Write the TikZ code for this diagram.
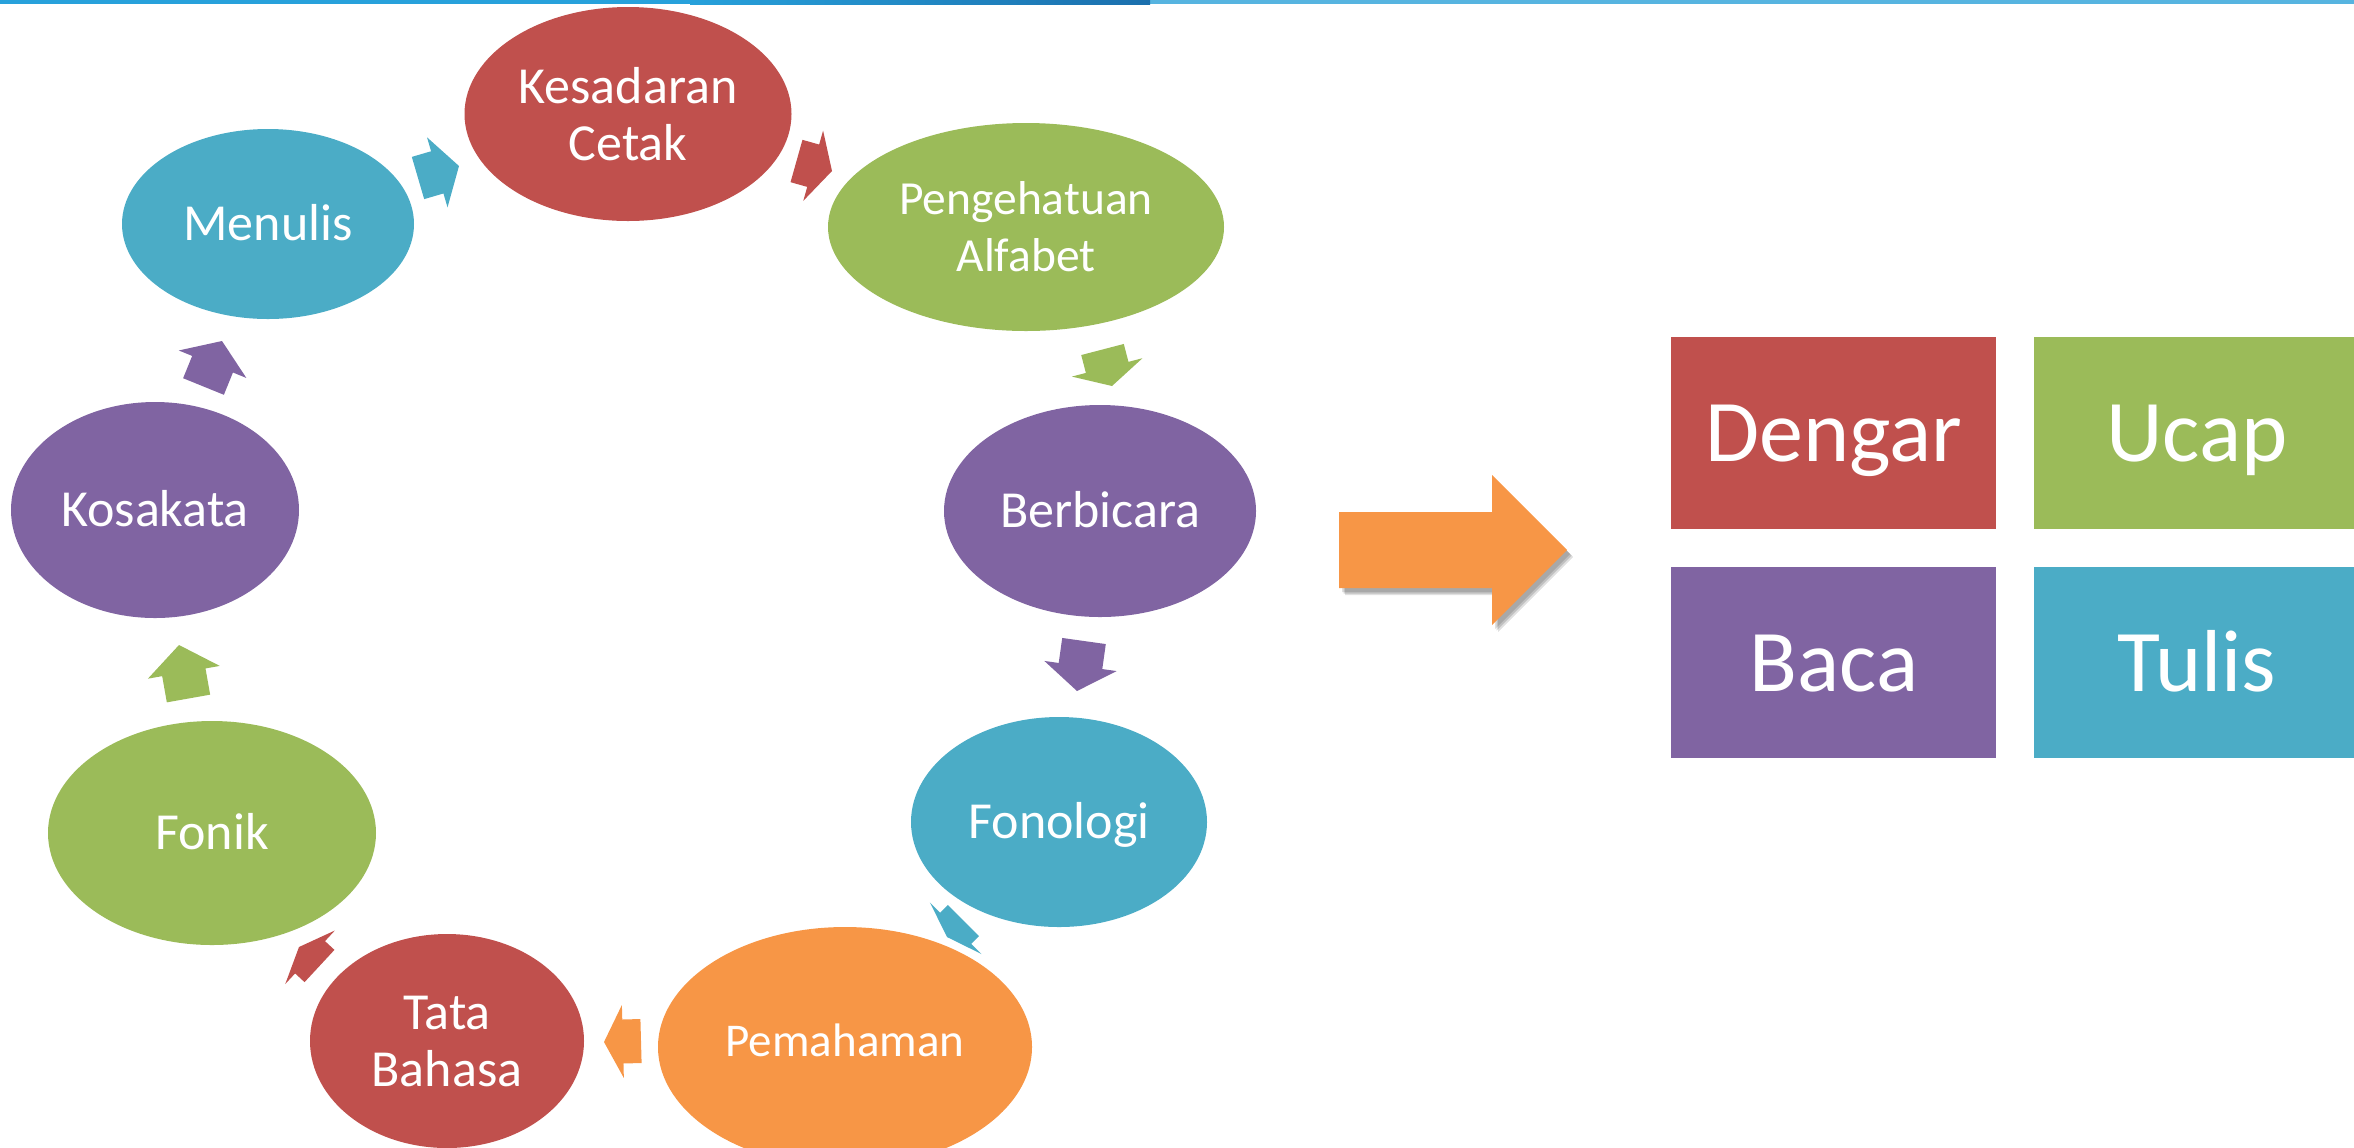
\documentclass[tikz,border=0pt]{standalone}
\usepackage{fontspec}
\setmainfont{Carlito}
\usetikzlibrary{shapes.geometric,calc}
\definecolor{cRed}{HTML}{C0504D}
\definecolor{cGreen}{HTML}{9BBB59}
\definecolor{cPurple}{HTML}{8064A2}
\definecolor{cCyan}{HTML}{4BACC6}
\definecolor{cOrange}{HTML}{F79646}
\definecolor{barA}{HTML}{27A1DB}
\definecolor{barB}{HTML}{1B6FAD}
\definecolor{barC}{HTML}{56B4E0}
\newcommand\blkarrow[4]{% colour, back coordinate, tip coordinate, shaft fraction
  \coordinate (#2m) at ($(#2)!#4!(#3)$);
  \fill[#1] ($(#2)!11pt!90:(#3)$) -- ($(#2m)!11pt!90:(#3)$) -- ($(#2m)!18.25pt!90:(#3)$)
    -- (#3) -- ($(#2m)!18.25pt!-90:(#3)$) -- ($(#2m)!11pt!-90:(#3)$) -- ($(#2)!11pt!-90:(#3)$) -- cycle;
}
\begin{document}
\begin{tikzpicture}[x=0.5pt,y=-0.5pt,
  bubble/.style={ellipse, inner sep=0pt, text=white, align=center,
    font=\fontsize{26}{28.5}\selectfont},
  oneline/.style={text height=16.7pt, text depth=0pt},
  tile/.style={rectangle, inner sep=0pt, text=white, anchor=north west,
    minimum width=162.5pt, font=\fontsize{44}{48}\selectfont,
    text height=28.3pt, text depth=0pt}]
\useasboundingbox (0,0) rectangle (2354,1147);
% top bar
\fill[barC] (0,0) rectangle (2354,4);
\fill[barA] (0,0) rectangle (690,4);
\shade[left color=barA, right color=barB] (690,0) rectangle (1150,4);

% cycle bubbles
\node[bubble, fill=cRed, minimum width=163.5pt, minimum height=107pt] (kes) at (628,114) {Kesadaran\\Cetak};
\node[bubble, fill=cGreen, minimum width=198pt, minimum height=104pt,
  font=\fontsize{23.75}{28.5}\selectfont] (peng) at (1026,227) {Pengehatuan\\Alfabet};
\node[bubble, oneline, fill=cPurple, minimum width=156pt, minimum height=106pt] (berb) at (1100,511) {Berbicara};
\node[bubble, oneline, fill=cCyan, minimum width=148pt, minimum height=105pt] (fono) at (1059,822) {Fonologi};
\node[bubble, fill=cOrange, minimum width=187pt, minimum height=120pt] (pema) at (845,1047) {};
\node[bubble, oneline, font=\fontsize{23.5}{28.5}\selectfont] (pemaT) at (845,1040) {Pemahaman};
\node[bubble, fill=cRed, minimum width=137pt, minimum height=107pt] (tata) at (447,1041) {Tata\\Bahasa};
\node[bubble, oneline, fill=cGreen, minimum width=164pt, minimum height=112pt] (fonik) at (212,833) {Fonik};
\node[bubble, oneline, fill=cPurple, minimum width=144pt, minimum height=108pt] (kosa) at (155,510) {Kosakata};
\node[bubble, oneline, fill=cCyan, minimum width=146pt, minimum height=95pt] (menu) at (268,224) {Menulis};

% small cycle arrows
\coordinate (a1) at (418,178);    \coordinate (a1t) at (459,166);
\coordinate (a2) at (796.5,161);  \coordinate (a2t) at (832,171);
\coordinate (a3) at (1102.5,349.5); \coordinate (a3t) at (1112,386);
\coordinate (a4) at (1084,641);   \coordinate (a4t) at (1077,691);
\coordinate (a5) at (963.5,920.5); \coordinate (a5t) at (947,937);
\coordinate (a6) at (641,1041);   \coordinate (a6t) at (604,1042);
\coordinate (a7) at (319.5,966);  \coordinate (a7t) at (299,947);
\coordinate (a8) at (188.5,698.5); \coordinate (a8t) at (179,645);
\coordinate (a9) at (203.5,386.5); \coordinate (a9t) at (222,341);
\blkarrow{cCyan}{a1}{a1t}{0.47}
\blkarrow{cRed}{a2}{a2t}{0.47}
\blkarrow{cGreen}{a3}{a3t}{0.49}
\blkarrow{cPurple}{a4}{a4t}{0.5}
\blkarrow{cCyan}{a5}{a5t}{0.47}
\blkarrow{cOrange}{a6}{a6t}{0.49}
\blkarrow{cRed}{a7}{a7t}{0.46}
\blkarrow{cGreen}{a8}{a8t}{0.49}
\blkarrow{cPurple}{a9}{a9t}{0.49}

% big arrow with shadow
\foreach \d/\op in {3/0.12,4.5/0.15,6/0.12}{
  \fill[black, opacity=\op, shift={(\d,\d+1)}]
    (1339,512) -- (1492,512) -- (1492,475) -- (1567,550) -- (1492,625) -- (1492,588) -- (1339,588) -- cycle;
}
\fill[cOrange] (1339,512) -- (1492,512) -- (1492,475) -- (1567,550) -- (1492,625) -- (1492,588) -- (1339,588) -- cycle;

% tiles
\node[tile, fill=cRed, minimum height=96pt] (dengar) at (1671,337) {Dengar};
\node[tile, fill=cGreen, minimum height=96pt] (ucap) at (2034,337) {Ucap};
\node[tile, fill=cPurple, minimum height=95.5pt] (baca) at (1671,567) {Baca};
\node[tile, fill=cCyan, minimum height=95.5pt] (tulis) at (2034,567) {Tulis};
\end{tikzpicture}
\end{document}
